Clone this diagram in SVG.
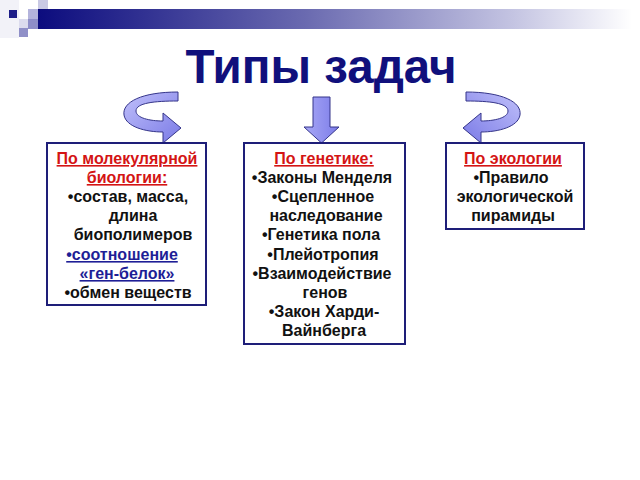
<svg xmlns="http://www.w3.org/2000/svg" width="640" height="480" viewBox="0 0 640 480">
  <defs>
    <linearGradient id="bar" x1="0" y1="0" x2="1" y2="0">
      <stop offset="0" stop-color="#0c0c7e"/>
      <stop offset="0.45" stop-color="#6a6ab0"/>
      <stop offset="0.8" stop-color="#c4c4e2"/>
      <stop offset="1" stop-color="#ffffff"/>
    </linearGradient>
    <linearGradient id="arrowFill" x1="0" y1="0" x2="1" y2="1">
      <stop offset="0" stop-color="#c0c0fa"/>
      <stop offset="1" stop-color="#7a7ae6"/>
    </linearGradient>
    <linearGradient id="downFill" x1="0" y1="0" x2="1" y2="0">
      <stop offset="0" stop-color="#a8a8f6"/>
      <stop offset="1" stop-color="#7c7ce8"/>
    </linearGradient>
    <path id="curl" d="M178,92 C142,92 122,102 124,115 C126,127 146,132 163,132 L163,143 L181,128 L163,113 L163,121 C150,121 136,118 136,111 C136,103 154,101 178,101 Z"/>
  </defs>
  <style>
    .box { fill: #ffffff; stroke: #1e1e78; stroke-width: 2; }
    text { font-family: "Liberation Sans", Arial, sans-serif; font-weight: bold; font-size: 16px; text-anchor: middle; fill: #111111; }
    .head { fill: #d41414; text-decoration: underline; }
    .blue { fill: #1e1e96; text-decoration: underline; }
    .title { font-size: 47.5px; fill: #10107c; }
    .arrow { fill: url(#arrowFill); stroke: #35358a; stroke-width: 1; }
  </style>

  <g id="header">
    <rect x="0" y="0" width="19" height="38" fill="#f2f2f8"/>
    <rect x="38" y="9" width="594" height="20" fill="url(#bar)"/>
    <rect x="9" y="10" width="8" height="8" fill="#1e1e88"/>
    <rect x="38" y="0" width="10" height="9" fill="#c9c9e4"/>
    <rect x="28" y="9" width="10" height="10" fill="#b4b4dc"/>
    <rect x="19" y="19" width="9" height="9" fill="#dcdcee"/>
    <rect x="28" y="19" width="10" height="10" fill="#8e8ec8"/>
    <rect x="19" y="28" width="9" height="9" fill="#9090c8"/>
  </g>

  <g id="title">
    <text class="title" x="321" y="83">Типы задач</text>
  </g>

  <g id="connectors">
    <use href="#curl" class="arrow"/>
    <use href="#curl" class="arrow" transform="translate(644,0) scale(-1,1)"/>
    <path class="arrow" style="fill:url(#downFill)" d="M313,97 L330,97 L330,127 L339,127 L321.5,143 L304,127 L313,127 Z"/>
  </g>

  <g id="box-molecular">
    <rect class="box" x="47" y="143" width="159" height="162"/>
    <text class="head" x="127" y="164">По молекулярной</text>
    <text class="head" x="127" y="183">биологии:</text>
    <text x="128" y="202">•состав, масса,</text>
    <text x="133" y="221">длина</text>
    <text x="133" y="240">биополимеров</text>
    <text class="blue" x="122" y="260">•соотношение</text>
    <text class="blue" x="127" y="279">«ген-белок»</text>
    <text x="128" y="298">•обмен веществ</text>
  </g>

  <g id="box-genetics">
    <rect class="box" x="244" y="143" width="161" height="201"/>
    <text class="head" x="324" y="164">По генетике:</text>
    <text x="322" y="183">•Законы Менделя</text>
    <text x="323" y="202">•Сцепленное</text>
    <text x="326" y="221">наследование</text>
    <text x="321" y="240">•Генетика пола</text>
    <text x="323" y="260">•Плейотропия</text>
    <text x="322" y="279">•Взаимодействие</text>
    <text x="325" y="298">генов</text>
    <text x="324" y="317">•Закон Харди-</text>
    <text x="324" y="336">Вайнберга</text>
  </g>

  <g id="box-ecology">
    <rect class="box" x="446" y="143" width="138" height="86"/>
    <text class="head" x="513" y="164">По экологии</text>
    <text x="511" y="183">•Правило</text>
    <text x="515" y="202">экологической</text>
    <text x="513" y="221">пирамиды</text>
  </g>
</svg>
